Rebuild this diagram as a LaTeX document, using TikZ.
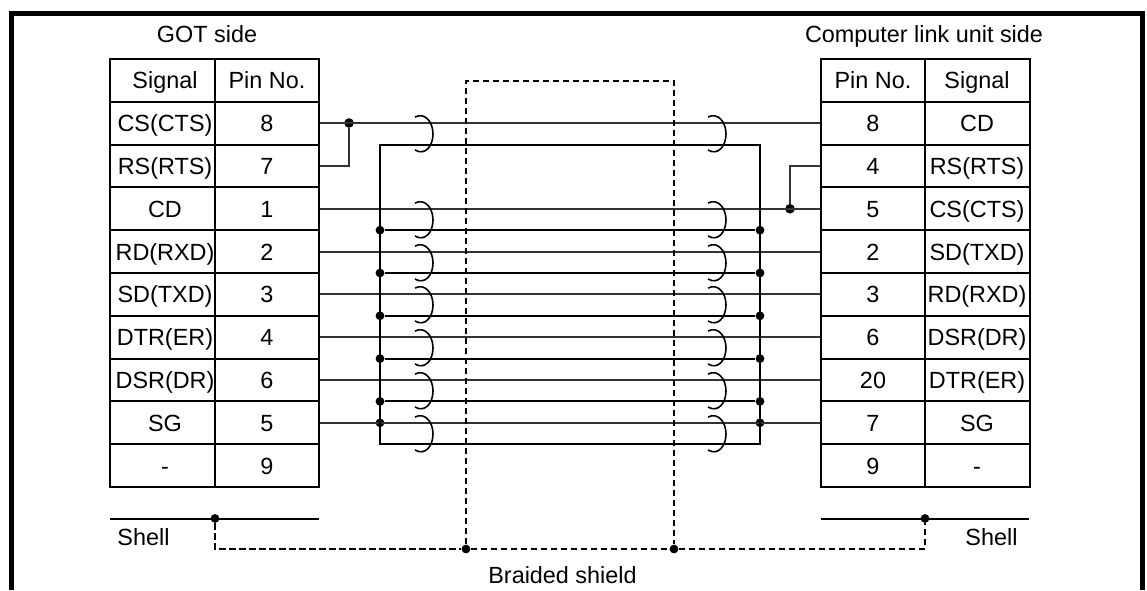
\documentclass[tikz,border=0pt]{standalone}
\usepackage{fontspec}
\setmainfont{Liberation Sans}
\tikzset{
  sigcell/.style={shape=rectangle, draw=black, line width=1pt, minimum width=52.5pt, minimum height=21.4pt, inner sep=0pt, text height=8.4pt, text depth=0pt},
  leftcell/.style={sigcell, execute at begin node={\hspace*{2.5pt}}},
  pincell/.style={sigcell, minimum width=52pt},
  lbl/.style={inner sep=0pt, text height=8.4pt, text depth=0pt},
  dot/.style={shape=circle, fill=black, inner sep=0pt, minimum size=4.4pt},
  bigdot/.style={dot, minimum size=4.8pt},
  wire/.style={-, line width=1pt, draw=black!80},
  rail/.style={-, line width=1pt, draw=black},
  shieldline/.style={-, line width=1.15pt, draw=black, dash pattern=on 3.1pt off 1.9pt},
  twist/.style={line width=0.8pt, draw=black}
}
\begin{document}
\begin{tikzpicture}[x=0.5pt, y=-0.5pt, font=\fontsize{11.7}{14}\selectfont]
\useasboundingbox (0,0) rectangle (1147,590);
% frame
\coordinate (fa) at (11.5,590);
\coordinate (fb) at (11.5,13.5);
\coordinate (fc) at (1142.5,13.5);
\coordinate (fd) at (1142.5,590);
\draw[line width=2.5pt, line join=miter] (fa) -- (fb) -- (fc) -- (fd);
\node[lbl] (gotside) at (207,34) {GOT side};
\node[lbl] (linkside) at (924,34) {Computer link unit side};
% GOT side table
\node[leftcell] (LS0) at (162.5,80.4) {Signal};
\node[pincell] (LP0) at (267,80.4) {Pin No.};
\node[leftcell] (LS8) at (162.5,123.2) {CS(CTS)};
\node[pincell] (LP8) at (267,123.2) {8};
\node[leftcell] (LS7) at (162.5,166) {RS(RTS)};
\node[pincell] (LP7) at (267,166) {7};
\node[leftcell] (LS1) at (162.5,208.8) {CD};
\node[pincell] (LP1) at (267,208.8) {1};
\node[leftcell] (LS2) at (162.5,251.6) {RD(RXD)};
\node[pincell] (LP2) at (267,251.6) {2};
\node[leftcell] (LS3) at (162.5,294.4) {SD(TXD)};
\node[pincell] (LP3) at (267,294.4) {3};
\node[leftcell] (LS4) at (162.5,337.2) {DTR(ER)};
\node[pincell] (LP4) at (267,337.2) {4};
\node[leftcell] (LS6) at (162.5,380) {DSR(DR)};
\node[pincell] (LP6) at (267,380) {6};
\node[leftcell] (LS5) at (162.5,422.8) {SG};
\node[pincell] (LP5) at (267,422.8) {5};
\node[leftcell] (LS9) at (162.5,465.6) {-};
\node[pincell] (LP9) at (267,465.6) {9};
% computer link unit side table
\node[pincell] (RP0) at (873,80.4) {Pin No.};
\node[sigcell] (RS0) at (977,80.4) {Signal};
\node[pincell] (RP8) at (873,123.2) {8};
\node[sigcell] (RS8) at (977,123.2) {CD};
\node[pincell] (RP4) at (873,166) {4};
\node[sigcell] (RS4) at (977,166) {RS(RTS)};
\node[pincell] (RP5) at (873,208.8) {5};
\node[sigcell] (RS5) at (977,208.8) {CS(CTS)};
\node[pincell] (RP2) at (873,251.6) {2};
\node[sigcell] (RS2) at (977,251.6) {SD(TXD)};
\node[pincell] (RP3) at (873,294.4) {3};
\node[sigcell] (RS3) at (977,294.4) {RD(RXD)};
\node[pincell] (RP6) at (873,337.2) {6};
\node[sigcell] (RS6) at (977,337.2) {DSR(DR)};
\node[pincell] (RP20) at (873,380) {20};
\node[sigcell] (RS20) at (977,380) {DTR(ER)};
\node[pincell] (RP7) at (873,422.8) {7};
\node[sigcell] (RS7) at (977,422.8) {SG};
\node[pincell] (RP9) at (873,465.6) {9};
\node[sigcell] (RS9) at (977,465.6) {-};
% junctions
\node[bigdot] (jL) at (349,123) {};
\node[bigdot] (jR) at (790,208.8) {};
\coordinate (bL) at (349,166);
\coordinate (bR) at (790,166);
\coordinate (cornerA) at (380,144.6);
\coordinate (cornerB) at (760,144.6);
\coordinate (cornerC) at (380,444.2);
\coordinate (cornerD) at (760,444.2);
\node[dot] (gl1) at (380,230.2) {};
\node[dot] (gl2) at (380,273) {};
\node[dot] (gl3) at (380,315.8) {};
\node[dot] (gl4) at (380,358.6) {};
\node[dot] (gl5) at (380,401.4) {};
\node[dot] (gl6) at (380,422.8) {};
\node[dot] (gr1) at (760,230.2) {};
\node[dot] (gr2) at (760,273) {};
\node[dot] (gr3) at (760,315.8) {};
\node[dot] (gr4) at (760,358.6) {};
\node[dot] (gr5) at (760,401.4) {};
\node[dot] (gr6) at (760,422.8) {};
% signal wires
\path [wire] (LP8.east) edge (RP8.west);
\path [wire] (LP1.east) edge (RP5.west);
\path [wire] (LP2.east) edge (RP2.west);
\path [wire] (LP3.east) edge (RP3.west);
\path [wire] (LP4.east) edge (RP6.west);
\path [wire] (LP6.east) edge (RP20.west);
\path [wire] (LP5.east) edge (RP7.west);
\draw [wire] (LP7.east) -- (bL) -- (jL);
\draw [wire] (RP4.west) -- (bR) -- (jR);
% return wires
\draw [rail] (cornerB) -- (cornerA) -- (cornerC) -- (cornerD) -- cycle;
\path [rail] (gl1) edge (gr1);
\path [rail] (gl2) edge (gr2);
\path [rail] (gl3) edge (gr3);
\path [rail] (gl4) edge (gr4);
\path [rail] (gl5) edge (gr5);
% twisted pairs
\foreach \tx in {415,708} {
  \foreach \cy in {134,220,263,305,348,391,434} {
    \draw[twist] (\tx,\cy-17) .. controls (\tx+10,\cy-22) and (\tx+18,\cy-12) .. (\tx+18,\cy) .. controls (\tx+18,\cy+12) and (\tx+10,\cy+22) .. (\tx,\cy+16);
  }
}
% shield
\node[dot] (sa) at (466,549) {};
\node[dot] (sb) at (674,549) {};
\coordinate (st) at (466,81);
\coordinate (su) at (674,81);
\draw [shieldline] (sa) -- (st) -- (su) -- (sb);
\node[lbl] (braid) at (562.5,575) {Braided shield};
% shell
\coordinate (LsA) at (110,518.5);
\coordinate (LsB) at (319,518.5);
\coordinate (RsA) at (821,518.5);
\coordinate (RsB) at (1029,518.5);
\node[dot] (Lsh) at (215,518.5) {};
\node[dot] (Rsh) at (925,518.5) {};
\coordinate (Lc) at (215,549);
\coordinate (Rc) at (925,549);
\path [rail] (LsA) edge (LsB);
\path [rail] (RsA) edge (RsB);
\draw [shieldline] (Lsh) -- (Lc) -- (sa);
\draw [shieldline] (sb) -- (Rc) -- (Rsh);
\path [shieldline] (sa) edge (sb);
\node[lbl] (shellL) at (143.5,537) {Shell};
\node[lbl] (shellR) at (991.5,537) {Shell};
\end{tikzpicture}
\end{document}
